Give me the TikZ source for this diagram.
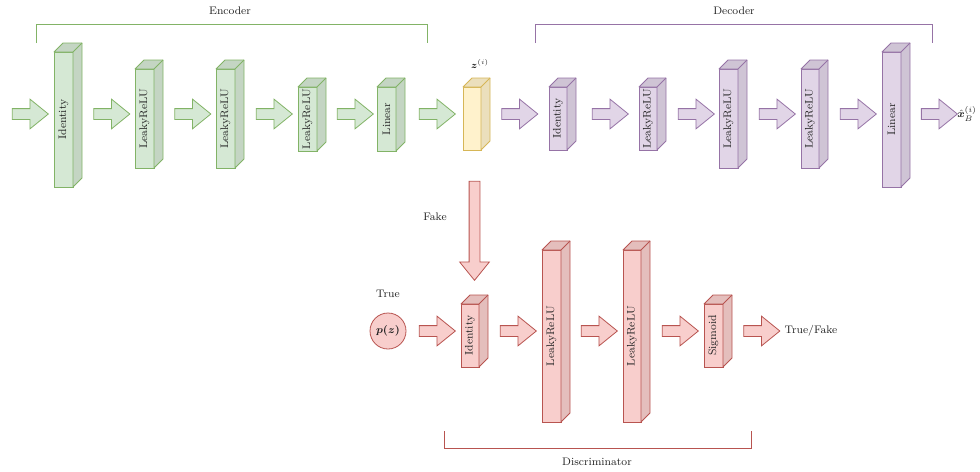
\documentclass[tikz,border=0pt]{standalone}
\usepackage{amsmath,amssymb,bm}
\usetikzlibrary{shapes.arrows,calc}

\definecolor{gfill}{HTML}{D5E8D4}\definecolor{gline}{HTML}{82B366}
\definecolor{pfill}{HTML}{E1D5E7}\definecolor{pline}{HTML}{9673A6}
\definecolor{rfill}{HTML}{F8CECC}\definecolor{rline}{HTML}{B85450}
\definecolor{yfill}{HTML}{FFF2CC}\definecolor{yline}{HTML}{D6B656}
\definecolor{txt}{HTML}{222222}

\def\px{0.75pt}
\tikzset{
  lbl/.style={font=\fontsize{8.2}{10}\selectfont, text=txt, inner sep=0},
  facebox/.style={draw=#1line, fill=#1fill, line width=0.6pt, inner sep=0, outer sep=0},
  barrow/.style={single arrow, draw=#1line, fill=#1fill, line width=0.6pt,
    inner xsep=0pt, inner ysep=5*\px, minimum width=0pt,
    single arrow head extend=9.5*\px, single arrow tip angle=78,
    single arrow head indent=0pt, outer sep=0},
  bracket/.style={draw=#1line, line width=0.6pt}
}

% layer drawn as a box: front face node, darker top and side faces, rotated caption
% #1 name, #2 colour key, #3 left, #4 top, #5 width, #6 height, #7 caption
\newcommand\layerbox[7]{%
  \node[facebox=#2, minimum width=#5*\px, minimum height=#6*\px, anchor=north west] (#1) at (#3,#4) {};
  \filldraw[draw=#2line, fill=#2fill!92!black, line width=0.6pt, line join=round]
    (#1.north west) -- ++(9,-9) -- ([shift={(9,-9)}]#1.north east)
    -- ([shift={(9,-9)}]#1.south east) -- (#1.south east) -- (#1.north east) -- cycle;
  \draw[draw=#2line, line width=0.6pt] (#1.north east) -- ++(9,-9);
  \node[lbl, rotate=90] (#1-t) at (#1.center) {#7};
}

\begin{document}
\begin{tikzpicture}[x=0.75pt, y=-0.75pt]
\useasboundingbox (0,0) rectangle (980,471);

% encoder
\layerbox{e1}{g}{54}{52}{19}{135}{Identity}
\layerbox{e2}{g}{135}{69}{19}{99}{LeakyReLU}
\layerbox{e3}{g}{216}{69}{19}{99}{LeakyReLU}
\layerbox{e4}{g}{298}{87}{19}{64}{LeakyReLU}
\layerbox{e5}{g}{377}{87}{19}{64}{Linear}
% latent code
\layerbox{z}{y}{463}{87}{18}{63}{}
% decoder
\layerbox{d1}{p}{549}{87}{18}{63}{Identity}
\layerbox{d2}{p}{639}{87}{18}{63}{LeakyReLU}
\layerbox{d3}{p}{719}{69}{19}{99}{LeakyReLU}
\layerbox{d4}{p}{801}{69}{18}{99}{LeakyReLU}
\layerbox{d5}{p}{882}{52}{19}{135}{Linear}
% discriminator
\layerbox{c1}{r}{461}{304}{18}{63}{Identity}
\layerbox{c2}{r}{542}{250}{19}{172}{LeakyReLU}
\layerbox{c3}{r}{623}{250}{18}{172}{LeakyReLU}
\layerbox{c4}{r}{704}{304}{19}{63}{Sigmoid}

% block arrows, top row
\foreach \n/\c/\x in {a0/g/27, a1/g/108.5, a2/g/189.5, a3/g/271, a4/g/352, a5/g/434,
                      a6/p/516.5, a7/p/607, a8/p/693, a9/p/774, a10/p/855, a11/p/936}
  \node[barrow=\c, minimum height=36*\px] (\n) at (\x,114) {};
% block arrows, discriminator row
\foreach \n/\x in {b0/434, b1/515, b2/596, b3/677, b4/758.5}
  \node[barrow=r, minimum height=36*\px] (\n) at (\x,331) {};
% fake samples fed down into the discriminator
\node[barrow=r, minimum height=99*\px, rotate=-90] (fake) at (474.5,227.5) {};

% prior sample
\node[circle, draw=rline, fill=rfill, line width=0.6pt, minimum size=36*\px, inner sep=0,
      font=\fontsize{8.2}{10}\selectfont, text=txt] (pz) at (388,331) {$\bm{p(z)}$};

% captions
\node[lbl] (zl) at (480,64) {\scriptsize$\bm{z}^{(i)}$};
\node[lbl, anchor=west] (xl) at (957,114) {$\hat{\bm{x}}_B^{(i)}$};
\node[lbl] (fl) at (435,217) {Fake};
\node[lbl] (tl) at (388,294) {True};
\node[lbl] (tf) at (811,331) {True/Fake};

% group brackets
\draw[bracket=g] (36,43) -- (36,24) -- (427,24) -- (427,43);
\node[lbl] (enc) at (230,11) {Encoder};
\draw[bracket=p] (535,43) -- (535,24) -- (932,24) -- (932,43);
\node[lbl] (dec) at (734,11) {Decoder};
\draw[bracket=r] (444,431) -- (444,448) -- (751,448) -- (751,431);
\node[lbl] (dis) at (597,462) {Discriminator};
\end{tikzpicture}
\end{document}
